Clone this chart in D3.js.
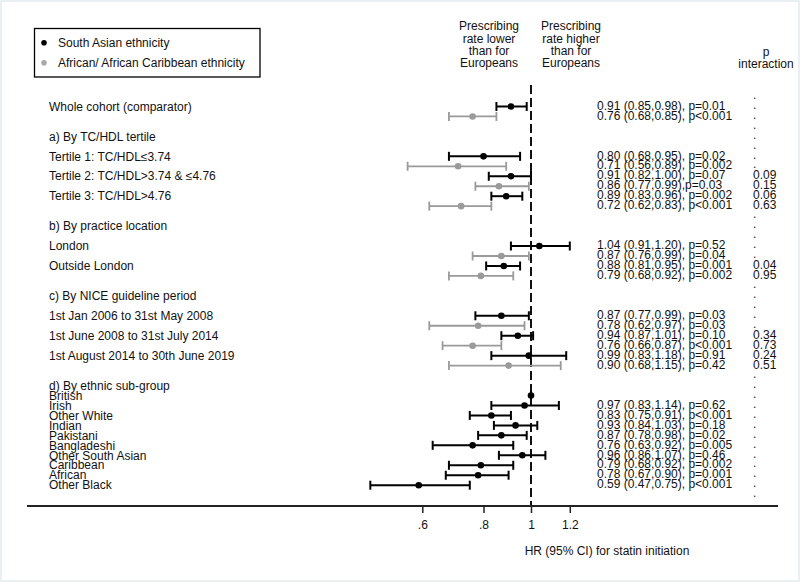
<!DOCTYPE html>
<html>
<head>
<meta charset="utf-8">
<script src="https://cdn.jsdelivr.net/npm/d3@7"></script>
<style>
  html, body { margin: 0; padding: 0; background: #fff; }
  svg { display: block; }
  text { font-family: "Liberation Sans", Arial, sans-serif; font-size: 12px; fill: #111; }
</style>
</head>
<body>
<svg id="chart" width="800" height="582"></svg>
<script>
// ---------------- DATA ----------------
// row index of each estimate (0 = top row)
const rowLabels = [
  {row: 0,  text: "Whole cohort (comparator)"},
  {row: 3,  text: "a) By TC/HDL tertile"},
  {row: 5,  text: "Tertile 1: TC/HDL\u22643.74"},
  {row: 7,  text: "Tertile 2: TC/HDL>3.74 & \u22644.76"},
  {row: 9,  text: "Tertile 3: TC/HDL>4.76"},
  {row: 12, text: "b) By practice location"},
  {row: 14, text: "London"},
  {row: 16, text: "Outside London"},
  {row: 19, text: "c) By NICE guideline period"},
  {row: 21, text: "1st Jan 2006 to 31st May 2008"},
  {row: 23, text: "1st June 2008 to 31st July 2014"},
  {row: 25, text: "1st August 2014 to 30th June 2019"},
  {row: 28, text: "d) By ethnic sub-group"},
  {row: 29, text: "British"},
  {row: 30, text: "Irish"},
  {row: 31, text: "Other White"},
  {row: 32, text: "Indian"},
  {row: 33, text: "Pakistani"},
  {row: 34, text: "Bangladeshi"},
  {row: 35, text: "Other South Asian"},
  {row: 36, text: "Caribbean"},
  {row: 37, text: "African"},
  {row: 38, text: "Other Black"}
];

const estRows = [0, 1, 5, 6, 7, 8, 9, 10, 14, 15, 16, 17, 21, 22, 23, 24, 25, 26,
                 30, 31, 32, 33, 34, 35, 36, 37, 38];
const estGroup = ["SA","AF","SA","AF","SA","AF","SA","AF","SA","AF","SA","AF","SA","AF","SA","AF","SA","AF",
                  "SA","SA","SA","SA","SA","SA","SA","SA","SA"];
const hr   = [0.91, 0.76, 0.80, 0.71, 0.91, 0.86, 0.89, 0.72, 1.04, 0.87, 0.88, 0.79, 0.87, 0.78, 0.94, 0.76, 0.99, 0.90,
              0.97, 0.83, 0.93, 0.87, 0.76, 0.96, 0.79, 0.78, 0.59];
const lo   = [0.85, 0.68, 0.68, 0.56, 0.82, 0.77, 0.83, 0.62, 0.91, 0.76, 0.81, 0.68, 0.77, 0.62, 0.87, 0.66, 0.83, 0.68,
              0.83, 0.75, 0.84, 0.78, 0.63, 0.86, 0.68, 0.67, 0.47];
const hi   = [0.98, 0.85, 0.95, 0.89, 1.00, 0.99, 0.96, 0.83, 1.20, 0.99, 0.95, 0.92, 0.99, 0.97, 1.01, 0.87, 1.18, 1.15,
              1.14, 0.91, 1.03, 0.98, 0.92, 1.07, 0.92, 0.90, 0.75];
const pval = ["p=0.01", "p<0.001", "p=0.02", "p=0.002", "p=0.07", "p=0.03", "p=0.002", "p<0.001",
              "p=0.52", "p=0.04", "p=0.001", "p=0.002", "p=0.03", "p=0.03", "p=0.10", "p<0.001", "p=0.91", "p=0.42",
              "p=0.62", "p<0.001", "p=0.18", "p=0.02", "p=0.005", "p=0.46", "p=0.002", "p=0.001", "p<0.001"];
const estText = ["0.91 (0.85,0.98), ", "0.76 (0.68,0.85), ", "0.80 (0.68,0.95), ", "0.71 (0.56,0.89), ",
                 "0.91 (0.82,1.00), ", "0.86 (0.77,0.99),", "0.89 (0.83,0.96), ", "0.72 (0.62,0.83), ",
                 "1.04 (0.91,1.20), ", "0.87 (0.76,0.99), ", "0.88 (0.81,0.95), ", "0.79 (0.68,0.92), ",
                 "0.87 (0.77,0.99), ", "0.78 (0.62,0.97), ", "0.94 (0.87,1.01), ", "0.76 (0.66,0.87), ",
                 "0.99 (0.83,1.18), ", "0.90 (0.68,1.15), ",
                 "0.97 (0.83,1.14), ", "0.83 (0.75,0.91), ", "0.93 (0.84,1.03), ", "0.87 (0.78,0.98), ",
                 "0.76 (0.63,0.92), ", "0.96 (0.86,1.07), ", "0.79 (0.68,0.92), ", "0.78 (0.67,0.90), ",
                 "0.59 (0.47,0.75), "];

// reference category (British): point only
const refRow = 29;
const refHR = 1;

// p interaction column
const pIntRows = [7, 8, 9, 10, 16, 17, 23, 24, 25, 26];
const pIntVals = ["0.09", "0.15", "0.06", "0.63", "0.04", "0.95", "0.34", "0.73", "0.24", "0.51"];

const xTicks = [0.6, 0.8, 1, 1.2];
const xTickLabels = [".6", ".8", "1", "1.2"];

const legendLabels = ["South Asian ethnicity", "African/ African Caribbean ethnicity"];
const headerLeft = ["Prescribing", "rate lower", "than for", "Europeans"];
const headerRight = ["Prescribing", "rate higher", "than for", "Europeans"];
const headerP = ["p", "interaction"];
const axisTitle = "HR (95% CI) for statin initiation";

// ---------------- DRAW ----------------
const svg = d3.select("#chart");
const colors = {SA: "#000000", AF: "#9a9a9a"};

// faint frame
svg.append("rect").attr("x", 0).attr("y", 0).attr("width", 800).attr("height", 582)
  .attr("fill", "#ffffff").attr("stroke", "#eaf0f2").attr("stroke-width", 4);

const x = d3.scaleLog().domain([0.6, 1]).range([422.3, 531]);
const y = d3.scaleLinear().domain([0, 38]).range([106.5, 485.2]);
const axisY = 506;

// Header text
function block(lines, cx, y0, lh) {
  svg.append("g").selectAll("text").data(lines).join("text")
    .attr("x", cx).attr("y", (d, i) => y0 + i * lh)
    .attr("text-anchor", "middle").attr("dy", "0.35em").text(d => d);
}
block(headerLeft, 489, 26, 12.4);
block(headerRight, 571, 26, 12.4);
block(headerP, 766, 51.5, 12.2);

// Legend
svg.append("rect").attr("x", 34.5).attr("y", 28.5).attr("width", 225.5).attr("height", 48.5)
  .attr("fill", "none").attr("stroke", "#000").attr("stroke-width", 1.3);
const lg = svg.append("g").selectAll("g").data(legendLabels).join("g")
  .attr("transform", (d, i) => `translate(0,${42.7 + i * 20})`);
lg.append("circle").attr("cx", 44).attr("cy", 0).attr("r", 2.8)
  .attr("fill", (d, i) => i === 0 ? colors.SA : "#a8a8a8");
lg.append("text").attr("x", 58).attr("y", 0).attr("dy", "0.35em").text(d => d);

// Row labels
svg.append("g").selectAll("text").data(rowLabels).join("text")
  .attr("x", 49).attr("y", d => y(d.row)).attr("dy", "0.35em").text(d => d.text);

// Reference dashed line at 1
svg.append("line").attr("x1", x(1)).attr("x2", x(1)).attr("y1", 85).attr("y2", axisY)
  .attr("stroke", "#111").attr("stroke-width", 2).attr("stroke-dasharray", "9,4");

// Axis
const axis = d3.axisBottom(x).tickValues(xTicks).tickFormat((d, i) => xTickLabels[i])
  .tickSize(7).tickPadding(7);
const ax = svg.append("g").attr("transform", `translate(0,${axisY})`).call(axis);
ax.select(".domain").remove();
ax.selectAll(".tick line").attr("stroke", "#222").attr("stroke-width", 1.5);
ax.selectAll(".tick text").attr("font-size", 12).attr("font-family", "'Liberation Sans', Arial, sans-serif").attr("fill", "#111");
svg.append("line").attr("x1", 27).attr("x2", 778).attr("y1", axisY).attr("y2", axisY)
  .attr("stroke", "#222").attr("stroke-width", 2);
svg.append("text").attr("x", 607).attr("y", 551).attr("text-anchor", "middle").attr("dy", "0.35em").text(axisTitle);

// CI bars
const est = estRows.map((r, i) => ({row: r, g: estGroup[i], hr: hr[i], lo: lo[i], hi: hi[i],
  txt: estText[i] + pval[i]}));
const gEst = svg.append("g");
const capH = 4.5;
est.forEach(d => {
  const c = colors[d.g];
  const yy = y(d.row);
  const w = d.g === "SA" ? 2 : 1.8;
  gEst.append("line").attr("x1", x(d.lo)).attr("x2", x(d.hi)).attr("y1", yy).attr("y2", yy)
    .attr("stroke", c).attr("stroke-width", w);
  [d.lo, d.hi].forEach(v => {
    gEst.append("line").attr("x1", x(v)).attr("x2", x(v)).attr("y1", yy - capH).attr("y2", yy + capH)
      .attr("stroke", c).attr("stroke-width", w);
  });
  gEst.append("circle").attr("cx", x(d.hr)).attr("cy", yy).attr("r", 3.3).attr("fill", c);
});
// reference point
gEst.append("line").attr("x1", x(refHR)).attr("x2", x(refHR)).attr("y1", y(refRow) - capH).attr("y2", y(refRow) + capH)
  .attr("stroke", "#000").attr("stroke-width", 2);
gEst.append("circle").attr("cx", x(refHR)).attr("cy", y(refRow)).attr("r", 3.3).attr("fill", "#000");

// Estimate text
svg.append("g").selectAll("text").data(est).join("text")
  .attr("x", 597).attr("y", d => y(d.row) - 1).attr("dy", "0.35em").text(d => d.txt);

// p interaction column
const pMap = new Map(pIntRows.map((r, i) => [r, pIntVals[i]]));
const allRows = d3.range(-1, 40);
svg.append("g").selectAll("text").data(allRows).join("text")
  .attr("x", 753).attr("y", r => y(r) - (pMap.has(r) ? 1 : 2)).attr("dy", "0.35em")
  .text(r => pMap.has(r) ? pMap.get(r) : ".");
</script>
</body>
</html>
